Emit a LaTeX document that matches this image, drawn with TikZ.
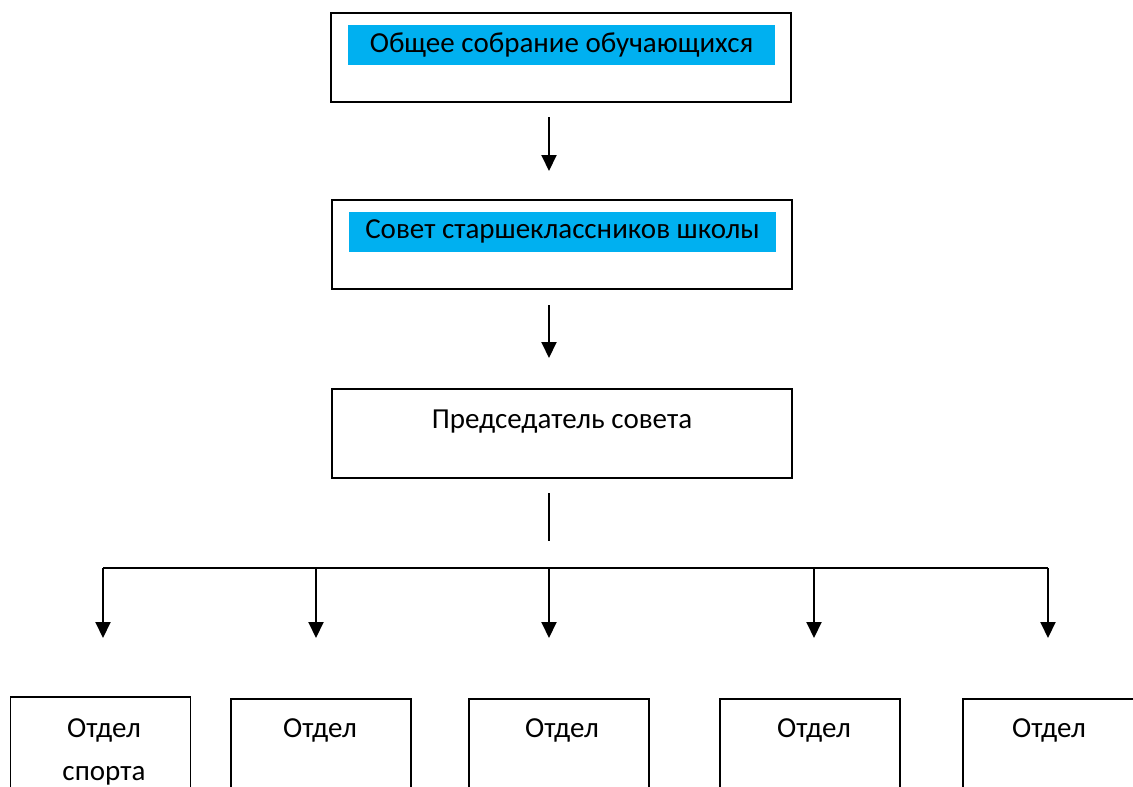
\documentclass[tikz,border=0pt]{standalone}
\usepackage{fontspec}
\setmainfont{Carlito}
\usetikzlibrary{arrows.meta,calc}
\definecolor{hl}{HTML}{00B0F0}
\tikzset{
  mainbox/.style={draw=black,line width=2pt,minimum width=460pt,minimum height=89pt,inner sep=0pt},
  hlbox/.style={fill=hl,minimum width=427pt,minimum height=40pt,inner sep=0pt,font=\fontsize{29}{34}\selectfont},
  plaintext/.style={inner sep=0pt,font=\fontsize{29}{43}\selectfont,align=center,anchor=north},
  deptbox/.style={draw=black,line width=1.6pt,minimum width=180pt,minimum height=150pt,anchor=north,inner sep=0pt},
  arr/.style={line width=2pt,-{Triangle[width=15pt,length=16pt]}},
  ln/.style={line width=1.5pt},
}
\begin{document}
\begin{tikzpicture}[x=1pt,y=-1pt]
\useasboundingbox (0,0) rectangle (1133,787);
\clip (0,0) rectangle (1133,787);
% top boxes
\node[mainbox] (b1) at (561,57.5) {};
\node[hlbox] (t1) at (561.5,45) {Общее собрание обучающихся};
\node[mainbox] (b2) at (562,244) {};
\node[hlbox] (t2) at (562.5,231.5) {Совет старшеклассников школы};
\node[mainbox] (b3) at (562,433.5) {};
\node[plaintext] (t3) at (562,410) {Председатель совета};
% connector coordinates
\coordinate (a1s) at (549,117);
\coordinate (a1e) at (549,171);
\coordinate (a2s) at (549,305);
\coordinate (a2e) at (549,358);
\coordinate (ls) at (549,493);
\coordinate (le) at (549,541);
\coordinate (hl) at (103,568);
\coordinate (hr) at (1048,568);
\draw[arr] (a1s) -- (a1e);
\draw[arr] (a2s) -- (a2e);
\draw[ln] (ls) -- (le);
\draw[line width=2pt] (hl) -- (hr);
% departments
\node[deptbox] (d1) at (100.5,696) {};
\node[deptbox] (d2) at (321,698) {};
\node[deptbox] (d3) at (559,698) {};
\node[deptbox] (d4) at (810,698) {};
\node[deptbox] (d5) at (1053,698) {};
\node[plaintext] (x1) at (104,718) {Отдел\\спорта};
\node[plaintext] (x2) at (320,718) {Отдел};
\node[plaintext] (x3) at (562,718) {Отдел};
\node[plaintext] (x4) at (814,718) {Отдел};
\node[plaintext] (x5) at (1049,718) {Отдел};
\foreach \x/\n in {103/1,316/2,549/3,814/4,1048/5}{
  \coordinate (ds\n) at (\x,568);
  \coordinate (de\n) at (\x,638);
  \draw[arr] (ds\n) -- (de\n);
}
\end{tikzpicture}
\end{document}
